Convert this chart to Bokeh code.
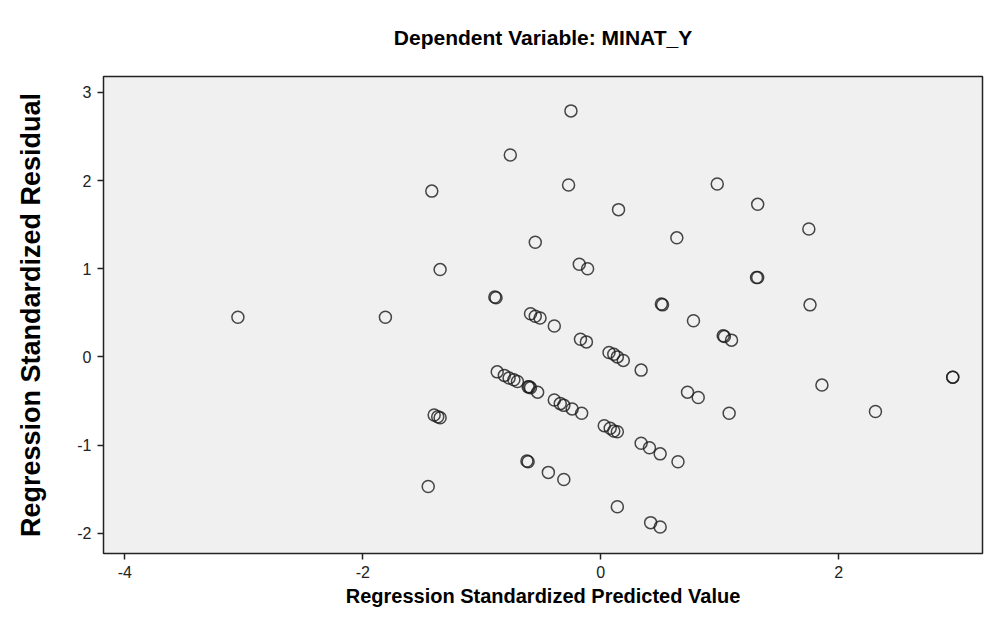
from bokeh.plotting import figure
from bokeh.models import Range1d, FixedTicker
from bokeh.embed import file_html
from bokeh.resources import INLINE

# Regression standardized predicted value (x) and residual (y)
pred = [-3.05, -1.81, -1.42, -1.35, -0.76, -0.25, -0.27, -0.55, 0.15, 0.64,
        0.98, 1.32, 1.75, -0.18, -0.11, -0.89, -0.88, 0.51, 0.52, 1.31,
        1.32, 1.76, 0.78, -0.59, -0.55, -0.51, -0.39, -0.17, -0.12, 0.07,
        0.11, 0.14, 0.19, 0.34, 1.03, 1.04, 1.10, 2.96, 2.96, 1.86,
        0.73, 0.82, 2.31, 1.08, -0.87, -0.81, -0.77, -0.73, -0.70, -0.61,
        -0.59, -0.60, -0.53, -0.39, -0.34, -0.31, -0.24, -0.16, 0.03, 0.08,
        0.11, 0.14, 0.34, 0.41, 0.50, 0.65, -1.40, -1.37, -1.35, -0.62,
        -0.61, -0.44, -0.31, -1.45, 0.14, 0.42, 0.50]
resid = [0.45, 0.45, 1.88, 0.99, 2.29, 2.79, 1.95, 1.30, 1.67, 1.35,
         1.96, 1.73, 1.45, 1.05, 1.00, 0.68, 0.67, 0.60, 0.59, 0.90,
         0.90, 0.59, 0.41, 0.49, 0.46, 0.44, 0.35, 0.20, 0.17, 0.05,
         0.03, 0.00, -0.04, -0.15, 0.24, 0.23, 0.19, -0.23, -0.23, -0.32,
         -0.40, -0.46, -0.62, -0.64, -0.17, -0.21, -0.24, -0.26, -0.28, -0.34,
         -0.35, -0.34, -0.40, -0.49, -0.53, -0.55, -0.59, -0.64, -0.78, -0.81,
         -0.84, -0.85, -0.98, -1.03, -1.10, -1.19, -0.66, -0.68, -0.69, -1.18,
         -1.19, -1.31, -1.39, -1.47, -1.70, -1.88, -1.93]

x_ticks = [-4, -2, 0, 2]
y_ticks = [-2, -1, 0, 1, 2, 3]

title_text = "Dependent Variable: MINAT_Y"
x_title = "Regression Standardized Predicted Value"
y_title = "Regression Standardized Residual"

FONT = "Liberation Sans"

p = figure(width=987, height=615, output_backend="svg", toolbar_location=None,
           x_range=Range1d(-4.18, 3.21), y_range=Range1d(-2.23, 3.18),
           min_border_left=103, min_border_right=5, min_border_top=75,
           min_border_bottom=62, title=title_text)

p.background_fill_color = "#F0F0F0"
p.border_fill_color = "white"
p.outline_line_color = "#222222"
p.outline_line_width = 1.5
p.xgrid.visible = False
p.ygrid.visible = False

p.title.align = "center"
p.title.text_font = FONT
p.title.text_font_size = "21px"
p.title.text_font_style = "bold"
p.title.text_color = "black"
p.title.standoff = 51
p.title.vertical_align = "top"

for ax in (p.xaxis[0], p.yaxis[0]):
    ax.axis_line_color = None
    ax.major_tick_line_color = "#222222"
    ax.major_tick_line_width = 1.5
    ax.major_tick_out = 6
    ax.major_tick_in = 0
    ax.minor_tick_line_color = None
    ax.major_label_text_font = FONT
    ax.major_label_text_font_size = "16px"
    ax.major_label_text_color = "#222222"
    ax.axis_label_text_font = FONT
    ax.axis_label_text_font_style = "bold"
    ax.axis_label_text_color = "black"

p.xaxis[0].ticker = FixedTicker(ticks=x_ticks)
p.yaxis[0].ticker = FixedTicker(ticks=y_ticks)
p.xaxis[0].major_label_overrides = {t: str(t) for t in x_ticks}
p.yaxis[0].major_label_overrides = {t: str(t) for t in y_ticks}
p.xaxis[0].axis_label = x_title
p.yaxis[0].axis_label = y_title
p.xaxis[0].axis_label_text_font_size = "20px"
p.yaxis[0].axis_label_text_font_size = "27px"
p.xaxis[0].major_label_standoff = 6
p.xaxis[0].axis_label_standoff = 4
p.yaxis[0].major_label_standoff = 6
p.yaxis[0].axis_label_standoff = 28
p.yaxis[0].major_label_orientation = "horizontal"

p.scatter(pred, resid, marker="circle", size=12, fill_color=None,
          line_color="#1a1a1a", line_width=1.5, line_alpha=0.8)

open("out.html", "w").write(file_html(p, INLINE))
